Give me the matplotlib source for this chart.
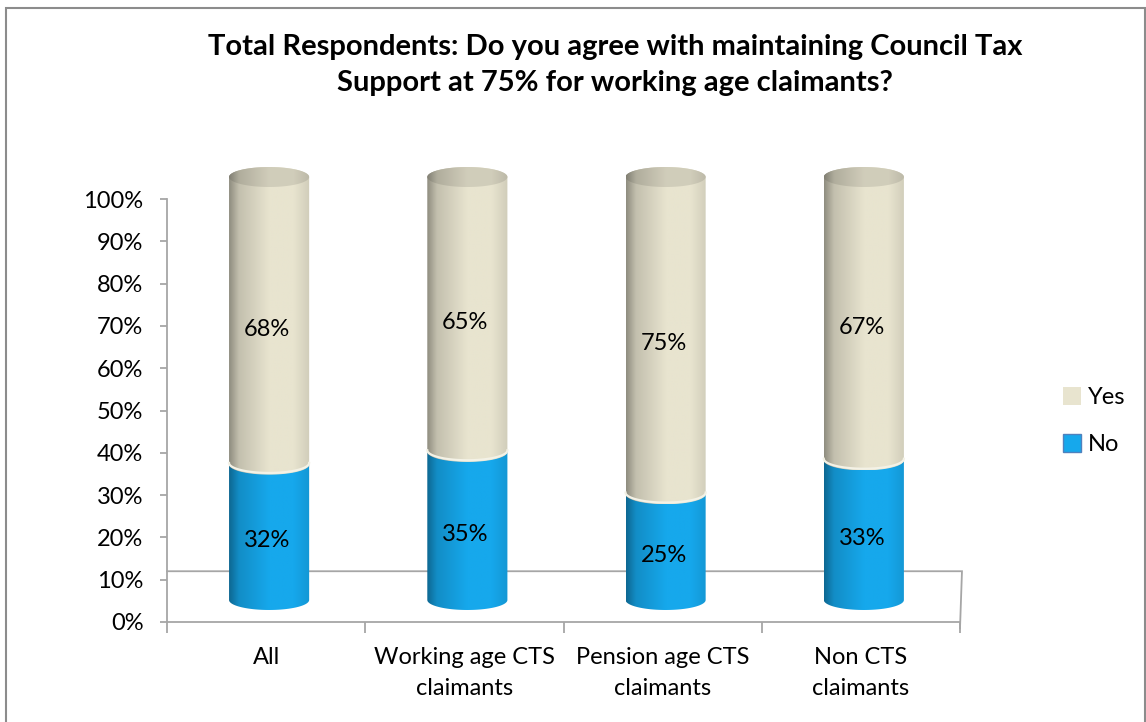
import numpy as np
import matplotlib.pyplot as plt
from matplotlib.path import Path
from matplotlib.patches import PathPatch, Patch, Rectangle

plt.rcParams['font.family'] = ['Lato', 'DejaVu Sans']

title = "Total Respondents: Do you agree with maintaining Council Tax\nSupport at 75% for working age claimants?"
groups = ["All", "Working age CTS\nclaimants", "Pension age CTS\nclaimants", "Non CTS\nclaimants"]
no_pct = [32, 35, 25, 33]
yes_pct = [68, 65, 75, 67]
series_names = ["Yes", "No"]

YES_COL = np.array([232, 228, 207]) / 255.0
NO_COL = np.array([22, 168, 236]) / 255.0
GRID_COL = "#a6a6a6"

# pseudo-3d geometry (data units)
DX = 0.015      # cylinder offset into the floor, x
DY = 5.2        # cylinder offset into the floor, y
RAD = 0.202     # half width of a cylinder
EH = 2.36       # half height of the elliptical cross section
FLOOR = 12.0


def shade_strip(base, n=96):
    u = np.linspace(0, 1, n)
    prof = np.interp(u, [0, 0.12, 0.5, 0.8, 1.0], [0.62, 0.84, 1.0, 1.0, 0.9])
    rgb = np.clip(base[None, :] * prof[:, None], 0, 1)
    return rgb[None, :, :]


def ellipse_pts(cx, cy, t0, t1, n=60):
    t = np.linspace(t0, t1, n)
    return np.column_stack([cx + RAD * np.cos(t), cy + EH * np.sin(t)])


def body_path(cx, y0, y1):
    # lower front arc at y0 (left -> right), then upper back arc at y1 (right -> left)
    lower = ellipse_pts(cx, y0, np.pi, 2 * np.pi)
    upper = ellipse_pts(cx, y1, 0, np.pi)
    verts = np.vstack([lower, upper, lower[:1]])
    codes = [Path.MOVETO] + [Path.LINETO] * (len(verts) - 2) + [Path.CLOSEPOLY]
    return Path(verts, codes)


def cap_path(cx, cy):
    pts = ellipse_pts(cx, cy, 0, 2 * np.pi, 120)
    codes = [Path.MOVETO] + [Path.LINETO] * (len(pts) - 2) + [Path.CLOSEPOLY]
    return Path(pts, codes)


def shaded(ax, path, base, extent, z):
    patch = PathPatch(path, facecolor="none", edgecolor="none", zorder=z)
    ax.add_patch(patch)
    im = ax.imshow(shade_strip(base), extent=extent, aspect="auto",
                   interpolation="bilinear", zorder=z, origin="lower")
    im.set_clip_path(patch)


fig = plt.figure(figsize=(11.46, 7.22), dpi=100)
W, H = 1146, 722
px_y = 4.23
ax = fig.add_axes([167 / W, (H - 622) / H, 793 / W, 112 * px_y / H])
ax.set_xlim(0, 4)
ax.set_ylim(0, 112)

for s in ["top", "right"]:
    ax.spines[s].set_visible(False)
for s in ["left", "bottom"]:
    ax.spines[s].set_color(GRID_COL)
    ax.spines[s].set_linewidth(1.3)
ax.spines["left"].set_bounds(0, 100)

ax.set_yticks(range(0, 101, 10), [f"{v}%" for v in range(0, 101, 10)])
ax.tick_params(axis="y", length=5, width=1.3, color=GRID_COL, labelsize=17, pad=12)
ax.set_xticks(range(5), [""] * 5)
ax.tick_params(axis="x", which="major", length=8, width=1.3, color=GRID_COL)
ax.set_xticks([i + 0.5 for i in range(4)], groups, minor=True)
ax.tick_params(axis="x", which="minor", length=0, labelsize=17, pad=18)
for lab in ax.get_xticklabels(minor=True):
    lab.set_linespacing(1.6)
ax.patch.set_alpha(0)

# floor outline
ax.plot([0, 4.01, 4.0], [FLOOR, FLOOR, -1.5], color=GRID_COL, lw=1.3, zorder=1,
        solid_joinstyle="miter", clip_on=False)

for i, (n_val, y_val) in enumerate(zip(no_pct, yes_pct)):
    cx = i + 0.5 + DX
    b0 = DY
    b1 = DY + n_val
    b2 = DY + n_val + y_val
    shaded(ax, body_path(cx, b0, b1), NO_COL, [cx - RAD, cx + RAD, b0 - EH, b1 + EH], 3)
    shaded(ax, body_path(cx, b1, b2), YES_COL, [cx - RAD, cx + RAD, b1 - EH, b2 + EH], 4)
    shaded(ax, cap_path(cx, b2), YES_COL * 0.9, [cx - RAD, cx + RAD, b2 - EH, b2 + EH], 5)
    arc = ellipse_pts(cx, b1, np.pi, 2 * np.pi)
    ax.plot(arc[:, 0], arc[:, 1] + 0.4, color="#f4f2e6", lw=1.6, zorder=4.5)

    ax.text(i + 0.505, DY * 0.62 + n_val / 2, f"{n_val}%", ha="center", va="center",
            fontsize=17, zorder=6)
    ax.text(i + 0.505, DY * 0.62 + n_val + y_val / 2, f"{y_val}%", ha="center",
            va="center", fontsize=17, zorder=6)

fig.text(615 / W, 1 - 65 / H, title, ha="center", va="center", fontsize=21,
         fontweight="bold", linespacing=1.45)

handles = [Patch(facecolor=YES_COL, edgecolor="none", label=series_names[0]),
           Patch(facecolor=NO_COL, edgecolor="#4f81bd", lw=1, label=series_names[1])]
fig.legend(handles=handles, loc="upper left", bbox_to_anchor=(1042 / W, 1 - 366 / H),
           frameon=False, fontsize=17, handlelength=0.75, handleheight=0.75,
           handletextpad=0.3, labelspacing=1.1)

fig.add_artist(Rectangle((6 / W, -0.01), (1145 - 6) / W, 1.01 - 8 / H,
                         transform=fig.transFigure, fill=False,
                         edgecolor="#8c8c8c", lw=1.5))

fig.savefig("out.png", dpi=100)
